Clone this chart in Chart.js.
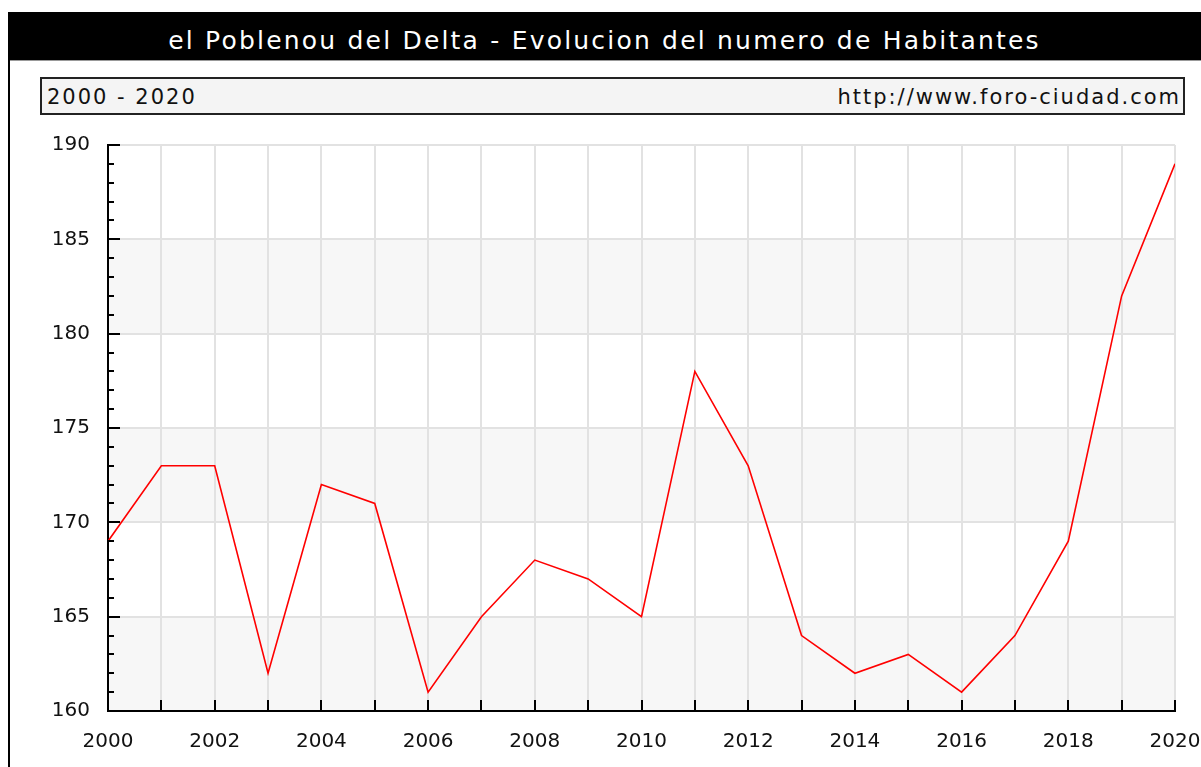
<!DOCTYPE html>
<html>
<head>
<meta charset="utf-8">
<script src="https://cdn.jsdelivr.net/npm/chart.js@4"></script>
<style>
  body{margin:0;background:#fff;font-family:"DejaVu Sans",Verdana,sans-serif;}
  #wrap{position:relative;width:1201px;height:767px;overflow:hidden;}
  #c{position:absolute;left:0;top:0;}
  #title{position:absolute;left:8px;top:12px;width:1193px;height:48px;background:#000;color:#fff;
    font-size:25px;letter-spacing:2.2px;line-height:58px;text-align:center;border-bottom:1px solid #999;white-space:nowrap;}
  #edge{position:absolute;left:8px;top:60px;width:2px;height:707px;background:#000;}
  #sub{position:absolute;left:40px;top:77px;width:1141px;height:34px;background:#f4f4f4;border:2px solid #222;
    font-size:21px;letter-spacing:2px;line-height:36px;color:#111;white-space:nowrap;}
  #sub .l{position:absolute;left:5px;} #sub .r{position:absolute;right:2px;}
</style>
</head>
<body>
<div id="wrap">
  <canvas id="c" width="1201" height="767"></canvas>
  <div id="title">el Poblenou del Delta - Evolucion del numero de Habitantes</div>
  <div id="edge"></div>
  <div id="sub"><span class="l">2000 - 2020</span><span class="r">http://www.foro-ciudad.com</span></div>
</div>
<script>
const years = [2000,2001,2002,2003,2004,2005,2006,2007,2008,2009,2010,2011,2012,2013,2014,2015,2016,2017,2018,2019,2020];
const habitantes = [169,173,173,162,172,171,161,165,168,167,165,178,173,164,162,163,161,164,169,182,189];
const yMin = 160, yMax = 190, yStep = 5;
const bandStarts = [160,170,180];

// franjas grises + marcas hacia dentro
const decor = {
  id:"decor",
  beforeDraw(chart){
    const {ctx, chartArea:a, scales:{y}} = chart;
    ctx.save(); ctx.fillStyle="#f7f7f7";
    bandStarts.forEach(v=>{ const t=y.getPixelForValue(v+yStep), b=y.getPixelForValue(v);
      ctx.fillRect(a.left,t,a.right-a.left,b-t); });
    ctx.restore();
  },
  afterDraw(chart){
    const {ctx, chartArea:a, scales:{x,y}} = chart;
    ctx.save(); ctx.strokeStyle="#000"; ctx.lineWidth=2;
    for(let v=yMin; v<=yMax; v++){
      const py=Math.round(y.getPixelForValue(v)), len=(v%5===0)?12:6;
      ctx.beginPath(); ctx.moveTo(a.left,py); ctx.lineTo(a.left+len,py); ctx.stroke();
    }
    years.forEach(yr=>{ const px=Math.round(x.getPixelForValue(yr));
      ctx.beginPath(); ctx.moveTo(px,a.bottom); ctx.lineTo(px,a.bottom-11); ctx.stroke(); });
    ctx.restore();
  }
};

new Chart(document.getElementById("c"),{
  type:"line",
  data:{datasets:[{data:years.map((yr,i)=>({x:yr,y:habitantes[i]})),
    borderColor:"#ff0000",borderWidth:1.6,pointRadius:0,tension:0,fill:false}]},
  options:{
    responsive:false,animation:false,
    layout:{padding:{top:145,right:26,left:0,bottom:0}},
    plugins:{legend:{display:false},tooltip:{enabled:false}},
    scales:{
      x:{type:"linear",min:2000,max:2020,
        afterFit(s){ s.height=56; s.paddingLeft=0; s.paddingRight=0; },
        ticks:{stepSize:1,autoSkip:false,maxRotation:0,padding:19,color:"#111",
          font:{family:"DejaVu Sans",size:20},
          callback:v=>(v%2===0)?String(v):""},
        grid:{color:"#e2e2e2",lineWidth:2,drawTicks:false},
        border:{color:"#000",width:2}},
      y:{min:yMin,max:yMax,
        afterFit(s){ s.width=108; s.paddingTop=0; s.paddingBottom=0; },
        ticks:{stepSize:yStep,padding:18,color:"#111",font:{family:"DejaVu Sans",size:20}},
        grid:{color:"#e2e2e2",lineWidth:2,drawTicks:false},
        border:{color:"#000",width:2}}
    }
  },
  plugins:[decor]
});
</script>
</body>
</html>
